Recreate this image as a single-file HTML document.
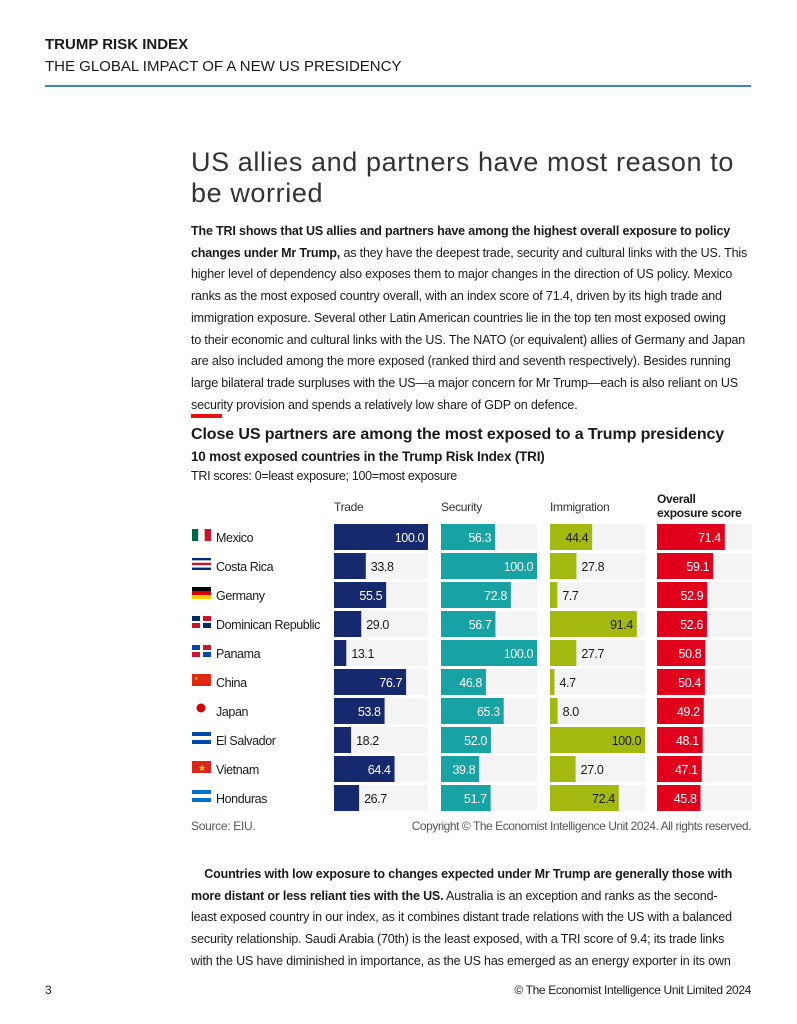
<!DOCTYPE html>
<html><head><meta charset="utf-8">
<style>
body{margin:0;width:797px;height:1024px;background:#fff;font-family:"Liberation Sans",sans-serif;color:#1a1a1a;position:relative;overflow:hidden}
.a{position:absolute;white-space:nowrap}
p.body{position:absolute;left:191px;margin:0;font-size:12.5px;line-height:21.7px;letter-spacing:-0.16px;white-space:nowrap}
</style></head><body>
<div class="a" style="left:45px;top:36px;font-size:15px;font-weight:bold">TRUMP RISK INDEX</div>
<div class="a" style="left:45px;top:58px;font-size:15px">THE GLOBAL IMPACT OF A NEW US PRESIDENCY</div>
<div class="a" style="left:45px;top:85px;width:706px;height:2px;background:#3c86c4"></div>
<div class="a" style="left:191px;top:147px;font-size:27px;line-height:31px;color:#333;white-space:normal;width:565px;letter-spacing:0.6px">US allies and partners have most reason to be worried</div>
<p class="body" style="top:221px"><b>The TRI shows that US allies and partners have among the highest overall exposure to policy</b><br><b>changes under Mr Trump,</b> as they have the deepest trade, security and cultural links with the US. This<br>higher level of dependency also exposes them to major changes in the direction of US policy. Mexico<br>ranks as the most exposed country overall, with an index score of 71.4, driven by its high trade and<br>immigration exposure. Several other Latin American countries lie in the top ten most exposed owing<br>to their economic and cultural links with the US. The NATO (or equivalent) allies of Germany and Japan<br>are also included among the more exposed (ranked third and seventh respectively). Besides running<br>large bilateral trade surpluses with the US—a major concern for Mr Trump—each is also reliant on US<br>security provision and spends a relatively low share of GDP on defence.</p>
<div class="a" style="left:191px;top:414px;width:31px;height:4px;background:#e3120b"></div>
<div class="a" style="left:191px;top:426px;font-size:16px;font-weight:bold;letter-spacing:-0.1px">Close US partners are among the most exposed to a Trump presidency</div>
<div class="a" style="left:191px;top:449px;font-size:13.5px;font-weight:bold;letter-spacing:-0.2px">10 most exposed countries in the Trump Risk Index (TRI)</div>
<div class="a" style="left:191px;top:469px;font-size:12.5px;letter-spacing:-0.3px">TRI scores: 0=least exposure; 100=most exposure</div>
<svg class="a" id="chart" style="left:0;top:0" width="797" height="840"></svg>
<div class="a" style="left:191px;top:819px;font-size:12px;color:#555;letter-spacing:-0.3px">Source: EIU.</div>
<div class="a" style="right:46px;top:819px;font-size:12px;color:#555;letter-spacing:-0.45px">Copyright © The Economist Intelligence Unit 2024. All rights reserved.</div>
<p class="body" style="top:864px">&nbsp;&nbsp;&nbsp;&nbsp;<b>Countries with low exposure to changes expected under Mr Trump are generally those with</b><br><b>more distant or less reliant ties with the US.</b> Australia is an exception and ranks as the second-<br>least exposed country in our index, as it combines distant trade relations with the US with a balanced<br>security relationship. Saudi Arabia (70th) is the least exposed, with a TRI score of 9.4; its trade links<br>with the US have diminished in importance, as the US has emerged as an energy exporter in its own</p>
<div class="a" style="left:45px;top:983px;font-size:12px">3</div>
<div class="a" style="right:46px;top:983px;font-size:12px;letter-spacing:-0.35px">© The Economist Intelligence Unit Limited 2024</div>
<script>
const countries=["Mexico","Costa Rica","Germany","Dominican Republic","Panama","China","Japan","El Salvador","Vietnam","Honduras"];
const trade=[100.0,33.8,55.5,29.0,13.1,76.7,53.8,18.2,64.4,26.7];
const security=[56.3,100.0,72.8,56.7,100.0,46.8,65.3,52.0,39.8,51.7];
const immigration=[44.4,27.8,7.7,91.4,27.7,4.7,8.0,100.0,27.0,72.4];
const overall=[71.4,59.1,52.9,52.6,50.8,50.4,49.2,48.1,47.1,45.8];
const ns="http://www.w3.org/2000/svg";
const svg=document.getElementById('chart');
function mk(t,a){const e=document.createElementNS(ns,t);for(const k in a)e.setAttribute(k,a[k]);svg.appendChild(e);return e;}
const cols=[
 {name:"Trade",vals:trade,x:334,w:94,c:"#16286e",tc:"#fff"},
 {name:"Security",vals:security,x:441,w:96,c:"#17a3a3",tc:"#fff"},
 {name:"Immigration",vals:immigration,x:550,w:95,c:"#a3b90f",tc:"#1a1a1a"},
 {name:"Overall",vals:overall,x:657,w:95,c:"#e0001b",tc:"#fff"}];
const rowY=i=>524+i*29;
const xs=(col,v)=>v/100*col.w;
cols.forEach((col,ci)=>{
 if(ci<3){const h=mk('text',{x:col.x,y:511,'font-size':12,fill:'#333','font-family':'Liberation Sans','letter-spacing':-0.3});h.textContent=col.name;
 
 }
 col.vals.forEach((v,i)=>{
  const y=rowY(i);
  const bg=mk('rect',{x:col.x,y:y,width:col.w,height:26,fill:'#f4f4f4'});
  
  
  const b=mk('rect',{x:col.x,y:y,width:xs(col,v),height:26,fill:col.c});
  
  
  const inside=v>=35;
  const t=mk('text',{x:inside?col.x+xs(col,v)-4:col.x+xs(col,v)+5,y:y+18,'font-size':12.5,'letter-spacing':-0.4,'text-anchor':inside?'end':'start',fill:inside?col.tc:'#1a1a1a','font-family':'Liberation Sans'});
  t.textContent=v.toFixed(1);
  
  
 });
});
const oh=mk('text',{x:657,y:503,'font-size':12,'font-weight':'bold',fill:'#1a1a1a','font-family':'Liberation Sans','letter-spacing':-0.3});
oh.innerHTML='<tspan x="657" dy="0">Overall</tspan><tspan x="657" dy="14">exposure score</tspan>';


const flags=[
 [["#006847","#fff","#ce1126"],'v'],[["#002b7f","#fff","#ce1126","#fff","#002b7f"],'h'],[["#000","#dd0000","#ffce00"],'h'],
 [["#002d62","#ce1126"],'q'],[["#0047ab","#d21034"],'q'],[["#de2910"],'s'],[["#fff"],'jp'],[["#0047ab","#fff","#0047ab"],'h'],[["#da251d"],'s'],[["#0073cf","#fff","#0073cf"],'h']];
countries.forEach((c,i)=>{
 const y=rowY(i);
 const g=document.createElementNS(ns,'g');svg.appendChild(g);
 
 
 const [cl,ty]=flags[i];const fx=192,fy=y+5,fw=19,fh=12;
 const r=(x,yy,w,h,f)=>{const e=document.createElementNS(ns,'rect');e.setAttribute('x',x);e.setAttribute('y',yy);e.setAttribute('width',w);e.setAttribute('height',h);e.setAttribute('fill',f);g.appendChild(e);};
 if(ty==='v')cl.forEach((f,k)=>r(fx+k*fw/3,fy,fw/3,fh,f));
 else if(ty==='h')cl.forEach((f,k)=>r(fx,fy+k*fh/cl.length,fw,fh/cl.length,f));
 else if(ty==='q'){r(fx,fy,fw,fh,'#fff');r(fx,fy,8,5,cl[0]);r(fx+11,fy+7,8,5,cl[0]);r(fx+11,fy,8,5,cl[1]);r(fx,fy+7,8,5,cl[1]);}
 else if(ty==='s'){r(fx,fy,fw,fh,cl[0]);const s=document.createElementNS(ns,'text');s.setAttribute('x',fx+(i===8?6:2));s.setAttribute('y',fy+(i===8?10:6));s.setAttribute('font-size',i===8?9:5);s.setAttribute('fill','#ffde00');s.textContent='★';g.appendChild(s);}
 else{const ci=document.createElementNS(ns,'circle');ci.setAttribute('cx',fx+9);ci.setAttribute('cy',fy+5);ci.setAttribute('r',4.5);ci.setAttribute('fill','#d30000');g.appendChild(ci);}
 const t=mk('text',{x:216,y:y+18,'font-size':12.5,'letter-spacing':-0.4,fill:'#1a1a1a','font-family':'Liberation Sans'});
 t.textContent=c;
 
 
});
</script>
</body></html>
